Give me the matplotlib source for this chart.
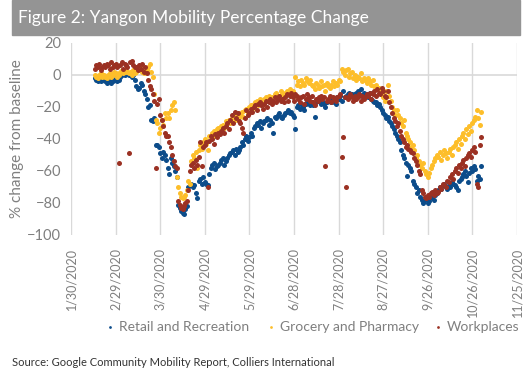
import matplotlib
matplotlib.use("Agg")
import matplotlib.pyplot as plt
import numpy as np
from datetime import date, timedelta

# daily values from 15 Feb 2020 to 1 Nov 2020, one row per week (Sat..Fri)
start = date(2020, 2, 15)

retail = [
    -2, -3, -4, -3, -4, -3, -2,
    -4, -5, -4, -3, -5, -4, -3,
    -2, -4, -3, -1, 0, 1, 0,
    2, 1, 0, 1, -1, 0, -3,
    -7, -9, -8, -5, -6, -10, -12,
    -15, -20, -19, -28, -29, -27, -44,
    -44, -45, -49, -52, -48, -50, -53,
    -58, -62, -52, -55, -57, -60, -64,
    -81, -83, -85, -86, -87, -84, -82,
    -70, -69, -68, -70, -69, -74, -77,
    -66, -65, -68, -64, -67, -68, -69,
    -62, -58, -56, -55, -59, -57, -56,
    -55, -53, -52, -56, -54, -52, -50,
    -49, -48, -47, -50, -46, -48, -47,
    -45, -42, -44, -40, -38, -41, -39,
    -36, -38, -33, -32, -30, -31, -29,
    -33, -30, -29, -28, -27, -31, -28,
    -30, -36, -26, -27, -25, -24, -26,
    -27, -25, -24, -23, -22, -24, -23,
    -25, -26, -34, -20, -19, -21, -18,
    -20, -22, -18, -17, -16, -19, -17,
    -19, -26, -17, -16, -15, -18, -16,
    -18, -20, -17, -16, -15, -17, -16,
    -17, -18, -14, -15, -13, -16, -10,
    -14, -13, -12, -11, -13, -12, -14,
    -12, -11, -10, -12, -9, -13, -11,
    -13, -12, -14, -11, -15, -16, -17,
    -17, -19, -18, -20, -22, -24, -25,
    -27, -26, -29, -30, -32, -34, -36,
    -38, -40, -42, -47, -50, -52, -55,
    -63, -56, -58, -60, -66, -68, -70,
    -74, -72, -76, -78, -80, -78, -77,
    -80, -79, -76, -77, -78, -75, -74,
    -72, -70, -71, -69, -68, -70, -71,
    -69, -70, -67, -68, -69, -70, -72,
    -66, -65, -64, -62, -60, -63, -67,
    -61, -58, -60, -57, -59, -66, -63,
    -65, -57,
]

grocery = [
    0, -1, -2, 0, 1, -1, 0,
    -1, -2, 0, 1, -1, 0, 2,
    1, -1, 0, 2, 3, 1, 2,
    3, 2, 1, 2, 0, 3, 1,
    2, 4, 3, 5, 2, 1, 3,
    3, 5, 7, 2, -1, -12, -28,
    -30, -36, -33, -28, -31, -24, -27,
    -24, -27, -22, -19, -17, -22, -64,
    -70, -74, -76, -77, -76, -75, -72,
    -66, -68, -54, -50, -52, -48, -58,
    -47, -44, -46, -42, -40, -43, -47,
    -38, -40, -36, -35, -38, -34, -33,
    -36, -32, -31, -33, -29, -30, -28,
    -30, -27, -26, -28, -25, -24, -26,
    -25, -23, -26, -22, -21, -24, -20,
    -19, -21, -18, -17, -16, -19, -15,
    -17, -18, -15, -14, -16, -13, -15,
    -14, -16, -12, -11, -13, -15, -10,
    -12, -14, -11, -10, -12, -9, -11,
    -10, -13, -1, -6, -4, -7, -3,
    -5, -6, -2, -4, -5, -3, -6,
    -7, -9, -5, -6, -8, -4, -7,
    -6, -10, -5, -7, -8, -6, -4,
    -7, -5, -6, -3, -4, 4, 2,
    0, 3, 4, -1, 1, 2, -2,
    0, -3, -1, -2, 1, -4, -2,
    -3, -5, -2, -4, -6, -3, -7,
    -6, -9, -8, -10, -12, -14, -16,
    -10, -6, -13, -16, -20, -22, -25,
    -22, -25, -27, -30, -32, -28, -36,
    -38, -40, -42, -45, -44, -47, -52,
    -50, -54, -56, -58, -55, -60, -62,
    -64, -61, -58, -56, -54, -52, -50,
    -51, -48, -53, -50, -47, -49, -52,
    -48, -46, -50, -45, -44, -42, -46,
    -40, -43, -38, -36, -40, -34, -37,
    -32, -35, -30, -28, -26, -22, -27,
    -31, -23,
]

workplaces = [
    4, 6, 5, 7, 3, 5, 6,
    5, 7, 6, 4, 8, 5, 6,
    7, 5, -55, 6, 8, 4, 7,
    6, 5, -49, 8, 9, 6, 5,
    5, 3, 6, 4, 7, 2, 5,
    1, -3, -7, -9, -12, -16, -58,
    -18, -15, -25, -28, -32, -36, -38,
    -38, -42, -45, -50, -54, -57, -58,
    -79, -81, -83, -84, -82, -80, -79,
    -72, -60, -56, -55, -58, -53, -56,
    -51, -42, -57, -45, -44, -42, -70,
    -41, -38, -40, -43, -37, -39, -36,
    -37, -35, -33, -36, -32, -30, -34,
    -28, -25, -30, -23, -27, -24, -29,
    -30, -33, -36, -27, -22, -25, -24,
    -21, -23, -20, -19, -22, -18, -17,
    -19, -21, -18, -16, -20, -17, -15,
    -18, -16, -14, -17, -15, -13, -16,
    -15, -17, -14, -12, -16, -13, -11,
    -14, -16, -12, -13, -15, -17, -14,
    -13, -18, -15, -12, -14, -16, -13,
    -17, -19, -15, -16, -14, -13, -15,
    -14, -57, -16, -15, -13, -17, -14,
    -15, -16, -14, -13, -12, -51, -39,
    -14, -70, -15, -13, -12, -14, -16,
    -13, -15, -14, -12, -16, -13, -15,
    -14, -12, -13, -11, -15, -12, -10,
    -13, -9, -11, -12, -8, -10, -13,
    -14, -10, -17, -20, -24, -27, -29,
    -32, -30, -35, -38, -40, -42, -45,
    -44, -46, -47, -48, -49, -52, -54,
    -56, -60, -62, -72, -74, -76, -77,
    -75, -76, -74, -73, -75, -72, -74,
    -73, -70, -71, -68, -69, -70, -66,
    -67, -64, -62, -65, -60, -58, -61,
    -56, -58, -55, -53, -57, -52, -50,
    -49, -51, -47, -45, -48, -68, -70,
    -44, -39,
]

series_names = ["Retail and Recreation", "Grocery and Pharmacy", "Workplaces"]
series_colors = ["#0c4c8a", "#fdbe2a", "#9b3123"]

days = [start + timedelta(days=i) for i in range(len(retail))]

tick_start = date(2020, 1, 30)
tick_dates = [tick_start + timedelta(days=30 * k) for k in range(11)]
tick_labels = [f"{d.month}/{d.day}/{d.year}" for d in tick_dates]

grey_txt = "#7f7f7f"
fnt = "Lato"

fig = plt.figure(figsize=(5.28, 3.69), dpi=100)

# header band
fig.patches.append(plt.Rectangle((12 / 528, 1 - 35 / 369), 508 / 528, 35 / 369,
                                 transform=fig.transFigure, color="#949494", zorder=0))
fig.text(18 / 528, 1 - 18 / 369, "Figure 2: Yangon Mobility Percentage Change",
         color="white", fontsize=12.5, family=fnt, va="center", ha="left")

ax = fig.add_axes([71 / 528, 1 - 235 / 369, 446 / 528, 192 / 369])

handles = []
for vals, name, col in zip([retail, grocery, workplaces], series_names, series_colors):
    h = ax.scatter(days, vals, s=13, color=col, label=name, linewidths=0, zorder=3)
    handles.append(h)

ax.set_ylim(-100, 20)
ax.set_yticks(range(-100, 21, 20))
ax.set_xlim(tick_dates[0], tick_dates[-1])
ax.set_xticks(tick_dates)
ax.set_xticklabels(tick_labels, rotation=90)

ax.grid(axis="x", color="#d9d9d9", linewidth=1)
ax.axhline(0, color="#d9d9d9", linewidth=1.2, zorder=1)
for s in ax.spines.values():
    s.set_visible(False)
ax.tick_params(length=0, colors=grey_txt, labelsize=10.5, pad=7)
ax.tick_params(axis="x", labelsize=9, pad=9)
for lbl in ax.get_xticklabels() + ax.get_yticklabels():
    lbl.set_family(fnt)
ax.set_ylabel("% change from baseline", color=grey_txt, fontsize=11, family=fnt, labelpad=2)

# one legend per entry so each sits where it does in the original
leg_x = [104, 265, 432]
for h, name, x in zip(handles, series_names, leg_x):
    leg = fig.legend([h], [name], loc="center left", bbox_to_anchor=(x / 528, 1 - 327 / 369),
                     frameon=False, markerscale=0.55, handlelength=0.8, handletextpad=0.3,
                     borderaxespad=0, borderpad=0, prop={"family": fnt, "size": 10})
    for t in leg.get_texts():
        t.set_color(grey_txt)

fig.text(12 / 528, 1 - 362 / 369, "Source: Google Community Mobility Report, Colliers International",
         fontsize=8, family=fnt, color="#333333", va="center")

fig.savefig("out.png", dpi=100)
